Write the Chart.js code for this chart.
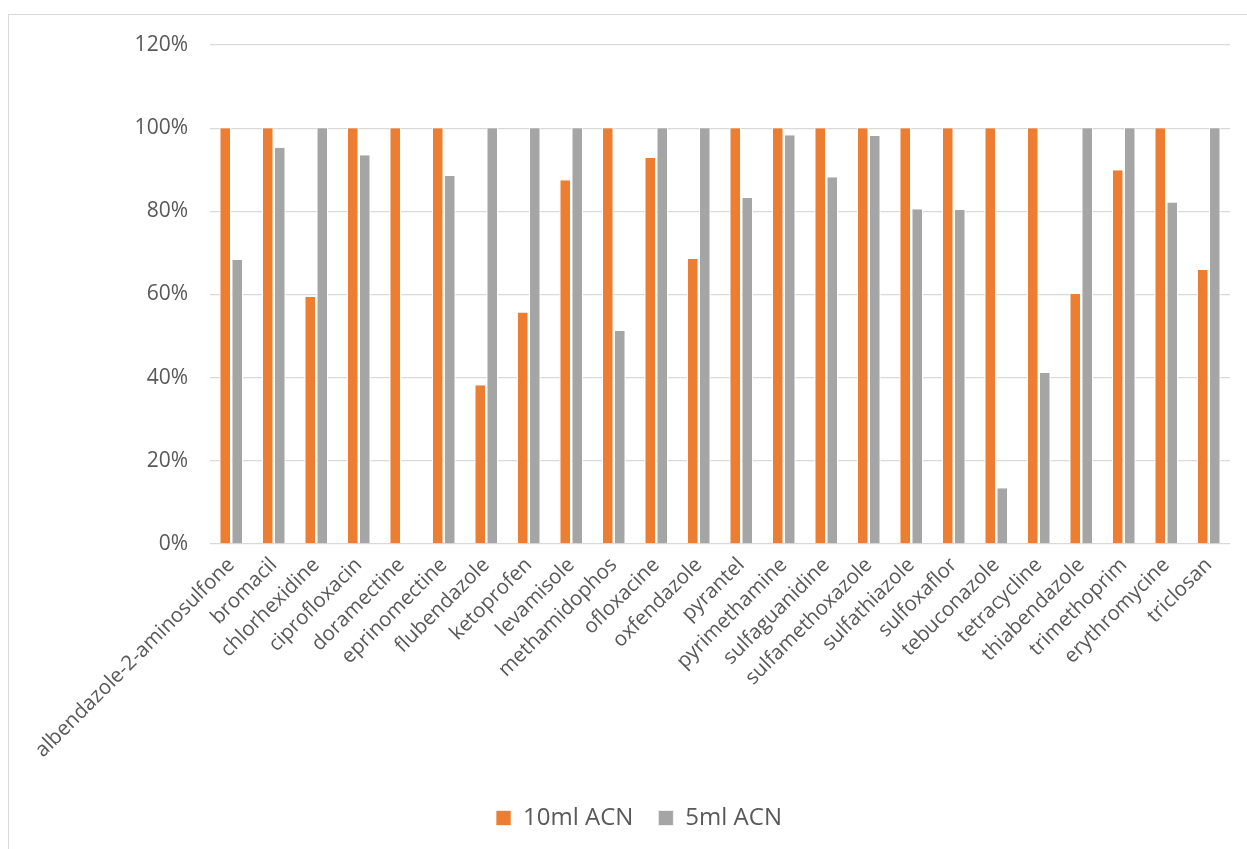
<!DOCTYPE html>
<html>
<head>
<meta charset="utf-8">
<script src="https://cdn.jsdelivr.net/npm/chart.js@4"></script>
<style>
  body { margin: 0; background: #fff; overflow: hidden; }
  .frame { position: absolute; left: 8px; top: 14px; width: 1260px; height: 860px; border: 1.5px solid #d9d9d9; }
  .box { position: absolute; left: 0; top: 0; width: 1247px; height: 849px; }
</style>
</head>
<body>
<div class="frame"></div>
<div class="box"><canvas id="chart"></canvas></div>
<script>
const categories = [
  'albendazole-2-aminosulfone', 'bromacil', 'chlorhexidine', 'ciprofloxacin',
  'doramectine', 'eprinomectine', 'flubendazole', 'ketoprofen', 'levamisole',
  'methamidophos', 'ofloxacine', 'oxfendazole', 'pyrantel', 'pyrimethamine',
  'sulfaguanidine', 'sulfamethoxazole', 'sulfathiazole', 'sulfoxaflor',
  'tebuconazole', 'tetracycline', 'thiabendazole', 'trimethoprim',
  'erythromycine', 'triclosan'
];
const acn10 = [100, 100, 59.4, 100, 100, 100, 38.2, 55.7, 87.5, 100, 92.9, 68.6,
  100, 100, 100, 100, 100, 100, 100, 100, 60.2, 89.9, 100, 65.9];
const acn5 = [68.3, 95.3, 100, 93.5, 0, 88.5, 100, 100, 100, 51.2, 100, 100,
  83.2, 98.3, 88.2, 98.1, 80.5, 80.3, 13.4, 41.1, 100, 100, 82.1, 100];
const yTicks = [0, 20, 40, 60, 80, 100, 120];

const gap = { left: 1.25, right: 1.25, top: 0, bottom: 0 };

// legend sits a bit right of centre in the original
const nudgeLegend = {
  id: 'nudgeLegend',
  afterLayout(chart) {
    chart.legend.left += 24;
    chart.legend.right += 24;
  }
};

new Chart(document.getElementById('chart'), {
  type: 'bar',
  data: {
    labels: categories,
    datasets: [{
      label: '10ml ACN',
      data: acn10,
      backgroundColor: '#ed7d31',
      borderColor: '#ffffff',
      borderWidth: gap,
      borderSkipped: false
    }, {
      label: '5ml ACN',
      data: acn5,
      backgroundColor: '#a5a5a5',
      borderColor: '#ffffff',
      borderWidth: gap,
      borderSkipped: false
    }]
  },
  options: {
    responsive: true,
    maintainAspectRatio: false,
    animation: false,
    layout: { padding: { top: 45, right: 17, bottom: 9, left: 0 } },
    datasets: { bar: { categoryPercentage: 0.565, barPercentage: 1 } },
    scales: {
      x: {
        grid: { display: false },
        border: { display: false },
        ticks: {
          color: '#595959',
          font: { family: 'Open Sans', size: 20.5 },
          maxRotation: 45, minRotation: 45,
          autoSkip: false,
          padding: 1
        },
        afterFit: s => { s.height = 237; }
      },
      y: {
        min: 0, max: 120,
        afterBuildTicks: s => { s.ticks = yTicks.map(v => ({ value: v })); },
        grid: { color: '#d9d9d9', lineWidth: 1.3, drawTicks: false },
        border: { display: false },
        ticks: {
          color: '#595959',
          font: { family: 'Open Sans', size: 21 },
          padding: 22,
          callback: v => v + '%'
        },
        afterFit: s => { s.width = 210; }
      }
    },
    plugins: {
      legend: {
        position: 'bottom',
        labels: {
          color: '#595959',
          font: { family: 'Open Sans', size: 24 },
          boxWidth: 15, boxHeight: 15,
          padding: 25
        }
      },
      tooltip: { enabled: false }
    }
  },
  plugins: [nudgeLegend]
});
</script>
</body>
</html>
